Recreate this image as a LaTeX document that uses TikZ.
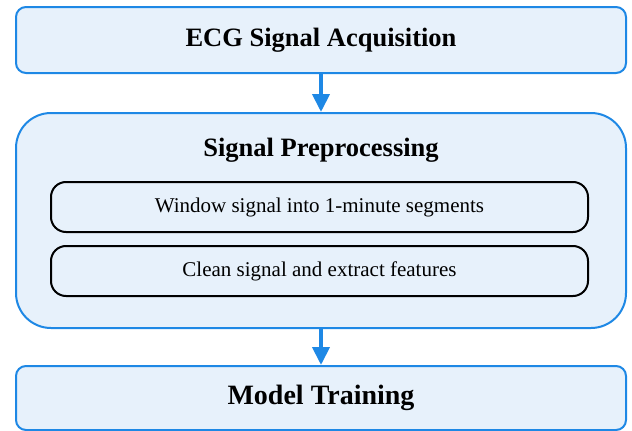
\documentclass[tikz,border=0pt]{standalone}
\usepackage{fontspec}
\setmainfont{Liberation Serif}
\definecolor{stageblue}{RGB}{30,136,229}
\definecolor{stagefill}{RGB}{231,241,251}
\usetikzlibrary{arrows.meta, positioning}

\begin{document}
\begin{tikzpicture}[
    x=1pt, y=-1pt,
    stage/.style={draw=stageblue, line width=2pt, fill=stagefill, rounded corners=10pt, minimum width=610pt, minimum height=66pt, font=\fontsize{26.5}{30}\selectfont\bfseries},
    substep/.style={draw=black, line width=2pt, rounded corners=15pt, minimum width=537pt, minimum height=50pt, font=\fontsize{21}{25}\selectfont},
    arr/.style={-{Triangle[length=18pt, width=17pt]}, line width=4pt, draw=stageblue}
]
    \useasboundingbox (0,0) rectangle (632,431);

    \node[stage] (acq) at (321,40) {ECG Signal Acquisition};
    \node[stage, below=38pt of acq, minimum height=215pt, rounded corners=35pt] (prep) {};
    \node[stage, below=36pt of prep, minimum height=64pt, font=\fontsize{28}{32}\selectfont\bfseries] (train) {Model Training};

    \node[font=\fontsize{26.5}{30}\selectfont\bfseries] (preptitle) at (321,150) {Signal Preprocessing};
    \node[substep] (window) at (319.5,207) {Window signal into 1-minute segments};
    \node[substep, below=12pt of window] (clean) {Clean signal and extract features};

    \draw[arr] (acq) -- (prep);
    \draw[arr] (prep) -- (train);
\end{tikzpicture}
\end{document}
